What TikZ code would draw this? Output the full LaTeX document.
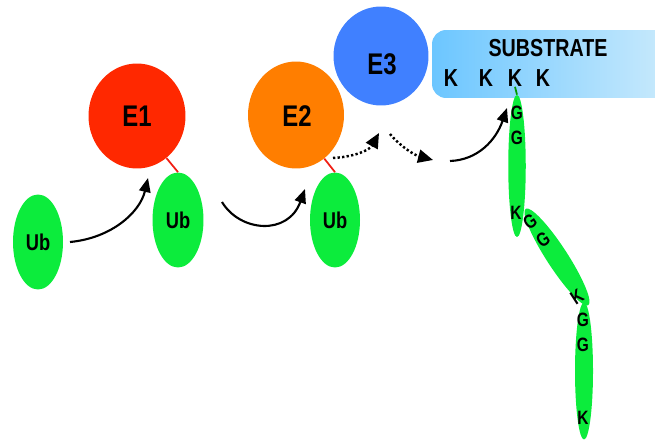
\documentclass[tikz,border=0pt]{standalone}
\usepackage{fontspec}
\setmainfont{Liberation Sans}
\newfontfamily\lbl{Liberation Sans}[FakeStretch=0.8]
\usetikzlibrary{shapes.geometric,arrows.meta}
\definecolor{ubgreen}{RGB}{12,236,60}
\definecolor{eonered}{RGB}{255,40,0}
\definecolor{etwoorange}{RGB}{255,126,0}
\definecolor{ethreeblue}{RGB}{64,128,255}
\definecolor{subleft}{RGB}{108,198,255}
\definecolor{subright}{RGB}{206,236,252}
\definecolor{linkred}{RGB}{240,30,20}
\tikzset{
  enzyme/.style={ellipse, inner sep=0pt, text=black, font=\lbl\bfseries\fontsize{17}{17}\selectfont},
  ubq/.style={ellipse, fill=ubgreen, inner sep=0pt, minimum width=1.0cm, minimum height=1.9cm,
              font=\lbl\bfseries\fontsize{13}{13}\selectfont},
  chainpart/.style={ellipse, fill=ubgreen, inner sep=0pt},
  res/.style={inner sep=0pt, font=\lbl\bfseries\fontsize{11}{11}\selectfont},
  subk/.style={inner sep=0pt, font=\lbl\bfseries\fontsize{14}{14}\selectfont},
  flow/.style={line width=1.2pt, -{Triangle[length=8pt,width=6.5pt]}},
  dotflow/.style={line width=1.4pt, dash pattern=on 1.3pt off 1.3pt,
                  -{Triangle[length=8.5pt,width=7.5pt]}},
  link/.style={linkred, line width=1pt},
}
\begin{document}
\begin{tikzpicture}[x=0.02cm, y=-0.02cm]
\useasboundingbox (0,0) rectangle (655,442);

% substrate bar, running off the right edge
\begin{scope}
  \clip (0,0) rectangle (655,442);
  \node[draw=none, rounded corners=8pt, left color=subleft, right color=subright,
        minimum width=5.0cm, minimum height=1.36cm, inner sep=0pt] (sub) at (557,64) {};
\end{scope}
\node[subk] (subtitle) at (548,48) {SUBSTRATE};
\node[subk] (k1) at (451,78) {K};
\node[subk] (k2) at (486,78) {K};
\node[subk] (k3) at (515,78) {K};
\node[subk] (k4) at (543,78) {K};

% enzymes
\node[enzyme, fill=eonered, minimum width=1.94cm, minimum height=2.1cm] (E1) at (137,116) {};
\node[enzyme] (E1t) at (137,116) {E1};
\node[enzyme, fill=etwoorange, minimum width=1.92cm, minimum height=2.14cm] (E2) at (296,115) {};
\node[enzyme] (E2t) at (297,116) {E2};
\node[enzyme, fill=ethreeblue, minimum width=1.9cm, minimum height=1.98cm] (E3) at (381,56) {};
\node[enzyme] (E3t) at (382,64) {E3};

% ubiquitin, free and bound to the enzymes
\node[ubq] (Ub1) at (38,242) {Ub};
\node[ubq, minimum width=1.02cm] (Ub2) at (178,220) {\raisebox{-2pt}{Ub}};
\node[ubq] (Ub3) at (335,220) {\raisebox{-2pt}{Ub}};
\draw[link] (E1.-55) -- (Ub2.north);
\draw[link] (E2.-57) -- (Ub3.north);

% polyubiquitin chain
\node[chainpart, minimum width=0.35cm, minimum height=2.84cm] (c1) at (517,166) {};
\node[chainpart, minimum width=0.42cm, minimum height=2.3cm, rotate=33] (c2) at (557,257) {};
\node[chainpart, minimum width=0.36cm, minimum height=2.74cm] (c3) at (584,371) {};
\draw[black!40!green, line width=1pt] (k3.south) -- (c1.north);
\node[res] (g1) at (517,113) {G};
\node[res] (g2) at (517,138) {G};
\node[res] (kc1) at (516,213) {K};
\node[res, rotate=33] (g3) at (530,222) {G};
\node[res, rotate=33] (g4) at (543,240) {G};
\node[res, rotate=33] (kc2) at (577,297) {K};
\node[res] (g5) at (583,320) {G};
\node[res] (g6) at (583,345) {G};
\node[res] (kc3) at (583,418) {K};

% transfer arrows
\coordinate (a1s) at (70,242);
\coordinate (a1e) at (148,178);
\coordinate (a2s) at (222,202);
\coordinate (a2e) at (305,189);
\coordinate (a3s) at (450,161);
\coordinate (a3e) at (507,108);
\coordinate (d1s) at (333,158);
\coordinate (d1e) at (379,133);
\coordinate (d2s) at (390,134);
\coordinate (d2e) at (433,160);
\draw[flow] (a1s) .. controls (112,238) and (140,212) .. (a1e);
\draw[flow] (a2s) .. controls (240,232) and (288,236) .. (a2e);
\draw[flow] (a3s) .. controls (478,160) and (496,140) .. (a3e);
\draw[dotflow] (d1s) .. controls (352,157) and (369,151) .. (d1e);
\draw[dotflow] (d2s) .. controls (400,146) and (414,155) .. (d2e);
\end{tikzpicture}
\end{document}
